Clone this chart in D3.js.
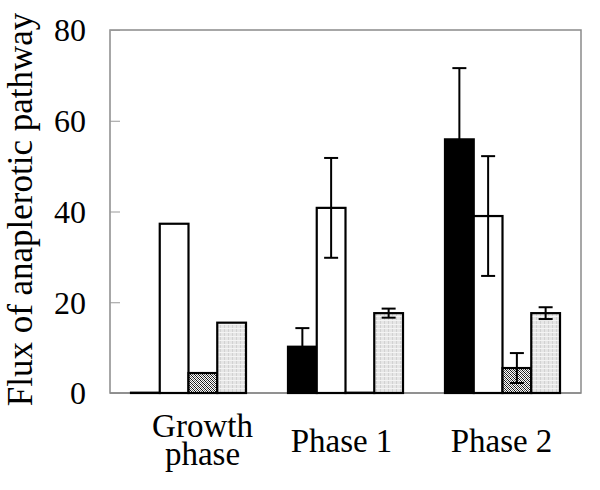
<!DOCTYPE html>
<html><head><meta charset="utf-8">
<script src="https://cdn.jsdelivr.net/npm/d3@7"></script>
<style>body{margin:0;background:#fff}svg{display:block}
text{font-family:"Liberation Serif","Times New Roman",Times,serif}</style>
</head><body>
<script>
const categories = [["Growth","phase"],["Phase 1"],["Phase 2"]];
const seriesNames = ["s1","s2","s3","s4"];
const black  = [0, 10.2, 55.9];
const blackErr = [0, 4.1, 15.7];
const white  = [37.3, 40.8, 39.0];
const whiteErr = [0, 11.0, 13.2];
const hatched = [4.4, 0, 5.5];
const hatchedErr = [0, 0, 3.3];
const dotted = [15.5, 17.6, 17.6];
const dottedErr = [0, 1.0, 1.3];
const yTicks = [0,20,40,60,80];

const W=600,H=490;
const m={l:110,r:19,t:30,b:97};
const labelShift=[14,-4,-1];
const svg=d3.select("body").append("svg").attr("width",W).attr("height",H);
const defs=svg.append("defs");
const p1=defs.append("pattern").attr("id","hatch").attr("patternUnits","userSpaceOnUse").attr("width",4).attr("height",4);
p1.append("rect").attr("width",4).attr("height",4).attr("fill","#fff");
[[0,0],[1,1],[2,2],[3,3],[2,0],[0,2],[3,1],[1,3]].forEach(([a,b],k)=>
  p1.append("rect").attr("x",a).attr("y",b).attr("width",1).attr("height",1).attr("fill",k<4?"#111":"#666"));
const p2=defs.append("pattern").attr("id","dots").attr("patternUnits","userSpaceOnUse").attr("width",4).attr("height",4);
p2.append("rect").attr("width",4).attr("height",4).attr("fill","#e6e6e6");
p2.append("rect").attr("x",0).attr("y",0).attr("width",1).attr("height",4).attr("fill","#d2d2d2");
p2.append("rect").attr("x",0).attr("y",0).attr("width",4).attr("height",1).attr("fill","#f4f4f4");

const x0=d3.scaleBand().domain(d3.range(categories.length)).range([m.l,W-m.r]).paddingInner(0).paddingOuter(0);
const x1=d3.scaleBand().domain(seriesNames).range([0,x0.bandwidth()]).paddingOuter(0.73);
const y=d3.scaleLinear().domain([0,80]).range([H-m.b,m.t]);

svg.append("rect").attr("x",m.l).attr("y",m.t).attr("width",W-m.l-m.r).attr("height",H-m.t-m.b)
  .attr("fill","none").attr("stroke","#8a8a8a").attr("stroke-width",1.5);
const yAxis=d3.axisLeft(y).tickValues(yTicks).tickSize(-10).tickPadding(24);
const ya=svg.append("g").attr("transform",`translate(${m.l},0)`).call(yAxis);
ya.attr("font-family",null).attr("font-size",null);
ya.select(".domain").remove();
ya.selectAll(".tick line").attr("stroke","#999").attr("stroke-width",1);
ya.selectAll(".tick text").attr("font-size",32).attr("fill","#000").attr("dy","0.34em");

svg.append("line").attr("x1",m.l).attr("x2",W-m.r).attr("y1",y(0)).attr("y2",y(0)).attr("stroke","#8a8a8a").attr("stroke-width",1.5);

const series=[
 {k:"s1",v:black,e:blackErr,fill:"#000"},
 {k:"s2",v:white,e:whiteErr,fill:"#fff"},
 {k:"s3",v:hatched,e:hatchedErr,fill:"url(#hatch)"},
 {k:"s4",v:dotted,e:dottedErr,fill:"url(#dots)"}
];
const bars=svg.append("g");
series.forEach(s=>{
  s.v.forEach((v,i)=>{
    const bx=x0(i)+x1(s.k), bw=x1.bandwidth();
    const h=Math.max(y(0)-y(v),0.3);
    bars.append("rect").attr("x",bx).attr("y",y(0)-h).attr("width",bw).attr("height",h)
      .attr("fill",s.fill).attr("stroke","#000").attr("stroke-width",2.2);
  });
});
const eg=svg.append("g").attr("stroke","#000").attr("stroke-width",2);
series.forEach(s=>{
  s.v.forEach((v,i)=>{
    const e=s.e[i]; if(!e) return;
    const cx=x0(i)+x1(s.k)+x1.bandwidth()/2;
    eg.append("line").attr("x1",cx).attr("x2",cx).attr("y1",y(v+e)).attr("y2",y(v-e));
    eg.append("line").attr("x1",cx-7).attr("x2",cx+7).attr("y1",y(v+e)).attr("y2",y(v+e));
    eg.append("line").attr("x1",cx-7).attr("x2",cx+7).attr("y1",y(v-e)).attr("y2",y(v-e));
  });
});

const xl=svg.append("g").attr("font-size",33).attr("text-anchor","middle");
categories.forEach((c,i)=>{
  const cx=x0(i)+x0.bandwidth()/2+labelShift[i];
  const t=xl.append("text").attr("x",cx).attr("y", c.length>1?437:452);
  c.forEach((line,j)=>t.append("tspan").attr("x",cx).attr("dy",j?28:0).text(line));
});
svg.append("text").attr("transform",`translate(32,${(m.t+H-m.b)/2-2}) rotate(-90)`)
  .attr("text-anchor","middle").attr("font-size",35)
  .text("Flux of anaplerotic pathway");
</script>
</body></html>
